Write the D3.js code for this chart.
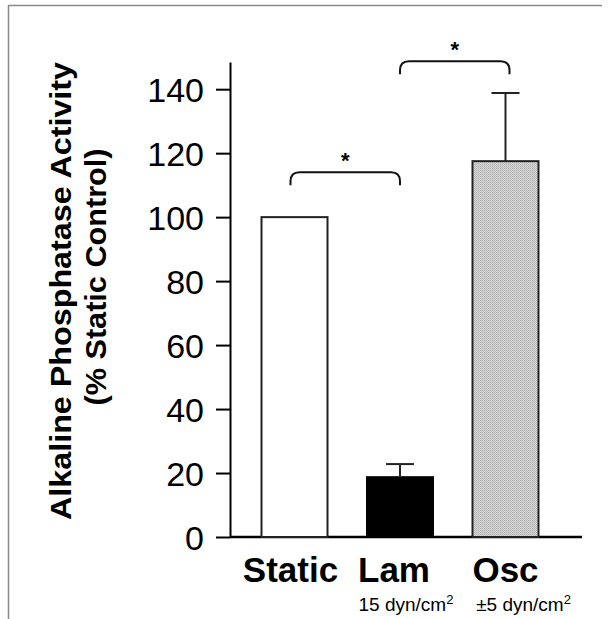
<!DOCTYPE html>
<html><head><meta charset="utf-8">
<script src="https://cdn.jsdelivr.net/npm/d3@7"></script>
<style>body{margin:0;background:#fff}svg{display:block}text{font-family:"Liberation Sans",Arial,sans-serif}</style>
</head><body><svg id="c" width="608" height="619"></svg>
<script>
const categories = ["Static", "Lam", "Osc"];
const subLabels = ["", "15 dyn/cm", "\u00b15 dyn/cm"];
const values = [100, 18.7, 117.5];
const errors = [0, 4.1, 21.3];
const tickValues = [0, 20, 40, 60, 80, 100, 120, 140];
const comparisons = [[0, 1, 114], [1, 2, 148.7]];
const fills = ["#ffffff", "#000000", "url(#stip)"];
const yTitle = ["Alkaline Phosphatase Activity", "(% Static Control)"];

const svg = d3.select("#c");
const defs = svg.append("defs");
const pat = defs.append("pattern").attr("id","stip").attr("width",2).attr("height",2).attr("patternUnits","userSpaceOnUse");
pat.append("rect").attr("width",2).attr("height",2).attr("fill","#d6d6d6");
pat.append("rect").attr("x",0).attr("y",0).attr("width",1).attr("height",1).attr("fill","#b2b2b2");
pat.append("rect").attr("x",1).attr("y",1).attr("width",1).attr("height",1).attr("fill","#bcbcbc");

// frame
svg.append("path").attr("d","M8.5,619V5.5H602").attr("fill","none").attr("stroke","#8a8a8a").attr("stroke-width",1.5);

const y = d3.scaleLinear().domain([0, 148.5]).range([537, 62]);
const x = d3.scalePoint().domain(categories).range([294.5, 505.5]);
const bw = 66;

// y axis
const ax = svg.append("g").attr("transform","translate(230,0)")
  .call(d3.axisLeft(y).tickValues(tickValues).tickSize(14).tickPadding(12).tickSizeOuter(0));
ax.select(".domain").attr("stroke","#000").attr("stroke-width",2);
ax.selectAll(".tick line").attr("stroke","#000").attr("stroke-width",2);
ax.selectAll(".tick text").attr("font-size",34).attr("fill","#000").attr("dy","0.36em")
  .style("font-family",'"Liberation Sans",Arial,sans-serif');

// baseline
svg.append("line").attr("x1",230).attr("x2",582).attr("y1",y(0)).attr("y2",y(0)).attr("stroke","#000").attr("stroke-width",2.5);

// bars
svg.selectAll("rect.bar").data(values).join("rect").attr("class","bar")
  .attr("x",(d,i)=>x(categories[i])-bw/2).attr("width",bw)
  .attr("y",d=>y(d)).attr("height",d=>y(0)-y(d))
  .attr("fill",(d,i)=>fills[i]).attr("stroke",(d,i)=>i===1?"#000":"#222").attr("stroke-width",2);

// error bars
values.forEach((v,i)=>{
  if(!errors[i]) return;
  const cx = x(categories[i]);
  svg.append("line").attr("x1",cx).attr("x2",cx).attr("y1",y(v)).attr("y2",y(v+errors[i])).attr("stroke","#222").attr("stroke-width",2);
  svg.append("line").attr("x1",cx-14).attr("x2",cx+14).attr("y1",y(v+errors[i])).attr("y2",y(v+errors[i])).attr("stroke","#222").attr("stroke-width",2);
});

// significance brackets
comparisons.forEach(([a,b,lvl])=>{
  const x1 = x(categories[a]) - (a===0?4:0), x2 = x(categories[b]) + (b===2?4:0);
  const yt = y(lvl), yb = yt + 13, r = 9;
  svg.append("path").attr("d",`M${x1},${yb}V${yt+r}Q${x1},${yt} ${x1+r},${yt}H${x2-r}Q${x2},${yt} ${x2},${yt+r}V${yb}`)
    .attr("fill","none").attr("stroke","#111").attr("stroke-width",2);
  svg.append("text").attr("x",(x1+x2)/2).attr("y",yt-4).attr("text-anchor","middle")
    .attr("font-size",22).attr("font-weight","bold").text("*");
});

// category labels
svg.selectAll("text.cat").data(categories).join("text").attr("class","cat")
  .attr("x",d=>x(d)-(d==="Static"?4:d==="Lam"?6:0)).attr("y",582).attr("text-anchor","middle")
  .attr("font-size",35).attr("font-weight","bold").text(d=>d);

subLabels.forEach((s,i)=>{
  if(!s) return;
  const t = svg.append("text").attr("x",x(categories[i])+(i===1?6:18)).attr("y",611).attr("text-anchor","middle").attr("font-size",19);
  t.append("tspan").text(s);
  t.append("tspan").attr("font-size",13).attr("dy",-7).text("2");
});

// y title
svg.append("text").attr("transform","translate(71,291) rotate(-90)").attr("text-anchor","middle")
  .attr("font-size",29).attr("font-weight","bold").attr("textLength",458).attr("lengthAdjust","spacingAndGlyphs").text(yTitle[0]);
svg.append("text").attr("transform","translate(106,277) rotate(-90)").attr("text-anchor","middle")
  .attr("font-size",29).attr("font-weight","bold").attr("textLength",257).attr("lengthAdjust","spacingAndGlyphs").text(yTitle[1]);
</script></body></html>
